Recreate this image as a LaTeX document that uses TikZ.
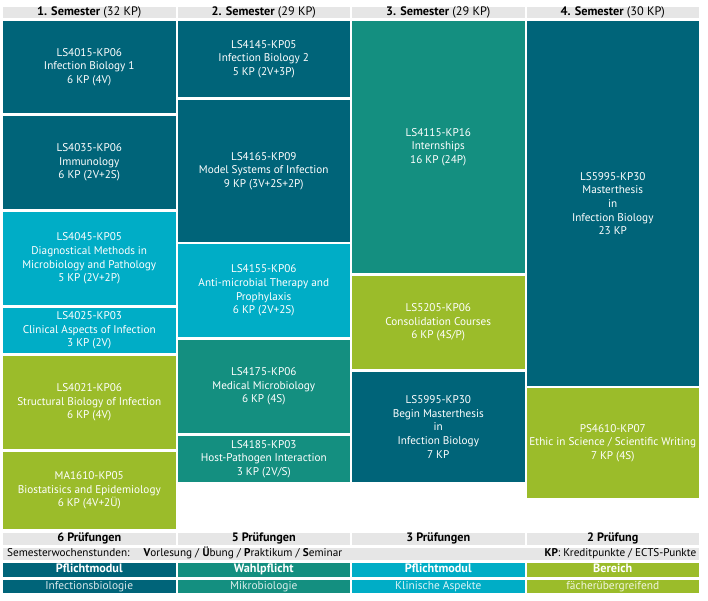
\documentclass[tikz,border=0pt]{standalone}
\usepackage{fontspec}
\setmainfont{PT Sans}
\definecolor{dteal}{HTML}{006479}
\definecolor{gteal}{HTML}{148F80}
\definecolor{cyanm}{HTML}{00ADC6}
\definecolor{limem}{HTML}{9BBC2A}
\definecolor{hgray}{HTML}{E6E6E6}
\tikzset{
  modbox/.style={anchor=north west, inner sep=0pt, outer sep=0pt, text=white, align=center,
    minimum width=172.5pt, font=\fontsize{11.2}{13.7}\selectfont},
  hdr/.style={anchor=north west, inner sep=0pt, outer sep=0pt, fill=hgray, text=black,
    minimum width=172.5pt, minimum height=11pt, text height=8.6pt, text depth=2.4pt,
    font=\fontsize{12.3}{13}\selectfont},
  foot/.style={anchor=north west, inner sep=0pt, outer sep=0pt, minimum width=172.5pt,
    minimum height=13.5pt, text height=8.4pt, text depth=2.6pt, font=\fontsize{11.4}{12}\selectfont},
  footb/.style={foot, font=\fontsize{12.2}{12}\selectfont\bfseries},
}
\begin{document}
\begin{tikzpicture}[x=1pt,y=-1pt]
\useasboundingbox[fill=white] (0,0) rectangle (708,600);
% headers
\node[hdr] (h1) at (3,7) {\textbf{1. Semester} (32 KP)};
\node[hdr] (h2) at (177.5,7) {\textbf{2. Semester} (29 KP)};
\node[hdr] (h3) at (352,7) {\textbf{3. Semester} (29 KP)};
\node[hdr] (h4) at (526.5,7) {\textbf{4. Semester} (30 KP)};
% column 1
\node[modbox, fill=dteal, minimum height=92pt] (a1) at (3,21) {LS4015-KP06\\Infection Biology 1\\6 KP (4V)};
\node[modbox, fill=dteal, minimum height=93pt] (a2) at (3,116) {LS4035-KP06\\Immunology\\6 KP (2V+2S)};
\node[modbox, fill=cyanm, minimum height=93pt] (a3) at (3,212) {LS4045-KP05\\Diagnostical Methods in\\Microbiology and Pathology\\5 KP (2V+2P)};
\node[modbox, fill=cyanm, minimum height=45pt] (a4) at (3,308) {LS4025-KP03\\Clinical Aspects of Infection\\3 KP (2V)};
\node[modbox, fill=limem, minimum height=93pt] (a5) at (3,356) {LS4021-KP06\\Structural Biology of Infection\\6 KP (4V)};
\node[modbox, fill=limem, minimum height=77pt] (a6) at (3,452) {MA1610-KP05\\Biostatisics and Epidemiology\\6 KP (4V+2Ü)};
% column 2
\node[modbox, fill=dteal, minimum height=76pt] (b1) at (177.5,21) {LS4145-KP05\\Infection Biology 2\\5 KP (2V+3P)};
\node[modbox, fill=dteal, minimum height=142pt] (b2) at (177.5,100) {LS4165-KP09\\Model Systems of Infection\\9 KP (3V+2S+2P)};
\node[modbox, fill=cyanm, minimum height=93pt] (b3) at (177.5,244) {LS4155-KP06\\Anti-microbial Therapy and\\Prophylaxis\\6 KP (2V+2S)};
\node[modbox, fill=gteal, minimum height=93pt] (b4) at (177.5,340) {LS4175-KP06\\Medical Microbiology\\6 KP (4S)};
\node[modbox, fill=gteal, minimum height=46pt] (b5) at (177.5,436) {LS4185-KP03\\Host-Pathogen Interaction\\3 KP (2V/S)};
% column 3
\node[modbox, fill=gteal, minimum height=252pt] (c1) at (352,21) {LS4115-KP16\\Internships\\16 KP (24P)};
\node[modbox, fill=limem, minimum height=93pt] (c2) at (352,276) {LS5205-KP06\\Consolidation Courses\\6 KP (4S/P)};
\node[modbox, fill=dteal, minimum height=110pt] (c3) at (352,372) {LS5995-KP30\\Begin Masterthesis\\in\\Infection Biology\\7 KP};
% column 4
\node[modbox, fill=dteal, minimum height=365pt] (d1) at (526.5,21) {LS5995-KP30\\Masterthesis\\in\\Infection Biology\\23 KP};
\node[modbox, fill=limem, minimum height=110pt] (d2) at (526.5,388) {PS4610-KP07\\Ethic in Science / Scientific Writing\\7 KP (4S)};
% footer
\node[footb, fill=hgray, minimum height=12pt] (p1) at (3,533) {6 Prüfungen};
\node[footb, fill=hgray, minimum height=12pt] (p2) at (177.5,533) {5 Prüfungen};
\node[footb, fill=hgray, minimum height=12pt] (p3) at (352,533) {3 Prüfungen};
\node[footb, fill=hgray, minimum height=12pt] (p4) at (526.5,533) {2 Prüfung};
\node[anchor=north west, inner sep=0pt, fill=hgray, minimum width=696pt, minimum height=11.5pt] (sw) at (3,548) {};
\node[anchor=west, inner sep=0pt, text height=8pt, text depth=2.4pt, font=\fontsize{11.2}{12}\selectfont] (swt) at ([xshift=4pt]sw.west) {Semesterwochenstunden:\hspace{0.9em} \textbf{V}orlesung / \textbf{Ü}bung / \textbf{P}raktikum / \textbf{S}eminar};
\node[anchor=east, inner sep=0pt, text height=8pt, text depth=2.4pt, font=\fontsize{11.2}{12}\selectfont] (kpt) at ([xshift=-3pt]sw.east) {\textbf{KP}: Kreditpunkte / ECTS-Punkte};
\node[footb, fill=dteal, text=white] (t1) at (3,563) {Pflichtmodul};
\node[footb, fill=gteal, text=white] (t2) at (177.5,563) {Wahlpflicht};
\node[footb, fill=cyanm, text=white] (t3) at (352,563) {Pflichtmodul};
\node[footb, fill=limem, text=white] (t4) at (526.5,563) {Bereich};
\node[foot, fill=dteal, text=white!85!dteal] (u1) at (3,579.5) {Infectionsbiologie};
\node[foot, fill=gteal, text=white!85!gteal] (u2) at (177.5,579.5) {Mikrobiologie};
\node[foot, fill=cyanm, text=white!85!cyanm] (u3) at (352,579.5) {Klinische Aspekte};
\node[foot, fill=limem, text=white!85!limem] (u4) at (526.5,579.5) {fächerübergreifend};
\end{tikzpicture}
\end{document}
